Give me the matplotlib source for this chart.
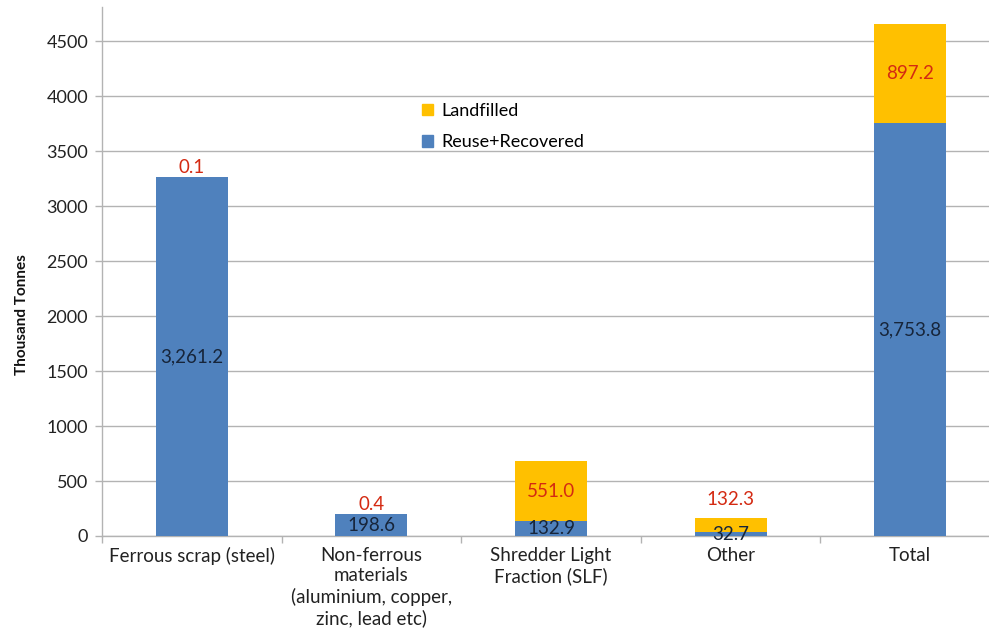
import numpy as np
import matplotlib
matplotlib.use('Agg')
import matplotlib.pyplot as plt
from matplotlib.patches import Patch

plt.rcParams['font.family'] = ['Lato', 'DejaVu Sans']

categories = ['Ferrous scrap (steel)',
              'Non-ferrous\nmaterials\n(aluminium, copper,\nzinc, lead etc)',
              'Shredder Light\nFraction (SLF)',
              'Other',
              'Total']
recovered = [3261.2, 198.6, 132.9, 32.7, 3753.8]
landfilled = [0.1, 0.4, 551.0, 132.3, 897.2]

blue = '#4F81BD'
yellow = '#FFC000'
red = '#D42A12'
navy = '#17253A'
grid_grey = '#B3B3B3'

# landfilled label: None = centred in segment, otherwise points above bar top
landfill_label_offset = [7, 7, None, 13, None]

fig = plt.figure(figsize=(9.89, 6.29), dpi=100)
ax = fig.add_axes([102 / 989, 93 / 629, 898 / 989, 529 / 629])

x = np.arange(len(categories))
w = 0.4
ax.bar(x, recovered, w, color=blue, zorder=3)
ax.bar(x, landfilled, w, bottom=recovered, color=yellow, zorder=3)

fs = 13.5
for i in range(len(x)):
    r, l = recovered[i], landfilled[i]
    ax.text(x[i], r / 2, f'{r:,.1f}', ha='center', va='center',
            fontsize=fs, color=navy, zorder=4)
    off = landfill_label_offset[i]
    if off is None:
        ax.text(x[i], r + l / 2, f'{l:,.1f}', ha='center', va='center',
                fontsize=fs, color=red, zorder=4)
    else:
        ax.annotate(f'{l:,.1f}', (x[i], r + l), xytext=(0, off),
                    textcoords='offset points', ha='center', va='center',
                    fontsize=fs, color=red, zorder=4)

ax.set_xlim(-0.5, len(x) - 0.5)
ax.set_ylim(0, 4810)
ax.set_yticks(np.arange(0, 4501, 500))
ax.yaxis.grid(True, color=grid_grey, linewidth=1)
ax.set_axisbelow(True)

ax.set_xticks(x)
ax.set_xticklabels(categories, fontsize=fs, color='#222222', linespacing=1.22)
ax.set_xticks(np.arange(-0.5, len(x), 1), minor=True)
ax.tick_params(axis='x', which='major', length=0, pad=8)
ax.tick_params(axis='x', which='minor', length=5, color=grid_grey, width=1)
ax.tick_params(axis='y', length=5, color=grid_grey, width=1, labelsize=13,
               labelcolor='#222222', pad=5)

for s in ['top', 'right']:
    ax.spines[s].set_visible(False)
for s in ['left', 'bottom']:
    ax.spines[s].set_color(grid_grey)
    ax.spines[s].set_linewidth(1)

ax.set_ylabel('Thousand Tonnes', fontsize=11, fontweight='bold', color='#111111')
ax.yaxis.set_label_coords(-0.081, 0.418)

handles = [Patch(color=yellow, label='Landfilled'),
           Patch(color=blue, label='Reuse+Recovered')]
ax.legend(handles=handles, loc='upper left', bbox_to_anchor=(0.338, 0.849),
          frameon=False, fontsize=13, handlelength=0.6, handleheight=0.6,
          handletextpad=0.5, labelspacing=0.85)

fig.savefig('out.png', dpi=100)
